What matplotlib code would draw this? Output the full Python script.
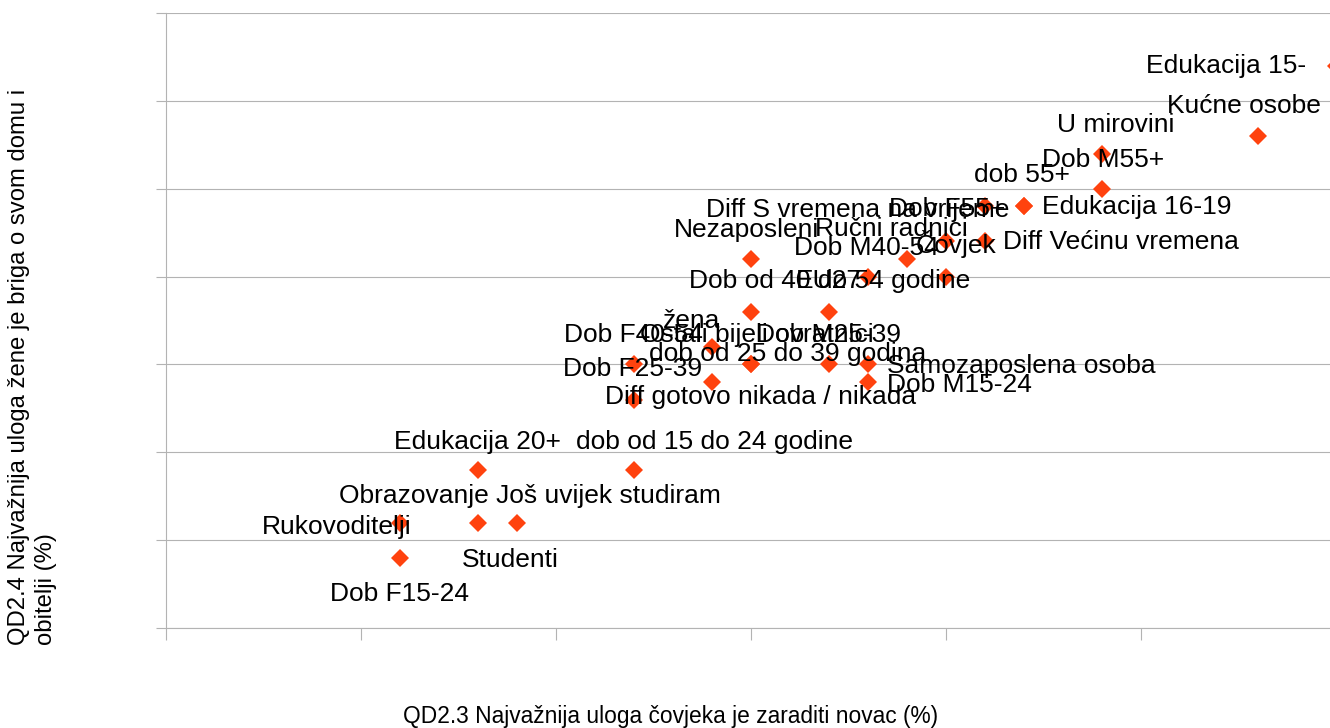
import matplotlib
matplotlib.use('Agg')
import matplotlib.pyplot as plt

plt.rcParams['font.family'] = ['Liberation Sans', 'DejaVu Sans']

# skupine ispitanika i vrijednosti (%)
groups = ['Edukacija 15-', 'Kućne osobe', 'U mirovini', 'Dob M55+', 'dob 55+',
          'Edukacija 16-19', 'Diff S vremena na vrijeme', 'Diff Većinu vremena',
          'Dob F55+', 'Ručni radnici', 'Nezaposleni', 'Dob M40-54', 'Čovjek',
          'Dob od 40 do 54 godine', 'EU27', 'žena', 'Dob F40-54',
          'Ostali bijeli ovratnici', 'Dob M25-39', 'Samozaposlena osoba',
          'dob od 25 do 39 godina', 'Dob M15-24', 'Dob F25-39',
          'Diff gotovo nikada / nikada', 'Edukacija 20+', 'dob od 15 do 24 godine',
          'Rukovoditelji', 'Obrazovanje Još uvijek studiram', 'Studenti', 'Dob F15-24']
x_vals = [60, 56, 48, 48, 44, 44, 42, 42, 40, 38, 30, 36, 40, 30, 34, 28, 24,
          30, 34, 36, 28, 36, 24, 30, 16, 24, 12, 16, 18, 12]
y_vals = [64, 56, 54, 50, 48, 48, 48, 44, 44, 42, 42, 40, 40, 36, 36, 32, 30,
          30, 30, 30, 28, 28, 26, 30, 18, 18, 12, 12, 12, 8]

# pomak natpisa od tocke (pikseli, y prema dolje) i poravnanje
label_pos = [(-30, 7, 'right'), (-14, -23, 'center'), (14, -22, 'center'),
             (1, -22, 'center'), (-2, -24, 'center'), (18, 8, 'left'),
             (-127, 11, 'center'), (18, 8, 'left'), (1, -25, 'center'),
             (-16, -23, 'center'), (-4, -22, 'center'), (-2, -22, 'center'),
             (10, -24, 'center'), (79, -24, 'center'), (0, -24, 'center'),
             (-20, -19, 'center'), (-1, -22, 'center'), (6, -22, 'center'),
             (-1, -22, 'center'), (19, 9, 'left'), (76, -21, 'center'),
             (19, 10, 'left'), (-1, -24, 'center'), (10, 40, 'center'),
             (-1, -21, 'center'), (80, -21, 'center'), (11, 11, 'right'),
             (52, -20, 'center'), (-7, 44, 'center'), (-1, 43, 'center')]

grid_col = '#b3b3b3'

fig = plt.figure(figsize=(13.3, 7.28), dpi=100)
ax = fig.add_axes([166 / 1330, 100 / 728, 1170 / 1330, 615 / 728])

ax.plot(x_vals, y_vals, linestyle='none', marker='D', markersize=9.6,
        color='#ff420e', markeredgewidth=0, clip_on=False, zorder=3)

for name, x, y, (dx, dy, ha) in zip(groups, x_vals, y_vals, label_pos):
    ax.annotate(name, (x, y), xytext=(dx, -dy), textcoords='offset pixels',
                ha=ha, va='baseline', fontsize=19, color='black',
                annotation_clip=False, zorder=4)

ax.set_xlim(0, 60)
ax.set_ylim(0, 70)
ax.set_xticks(range(0, 61, 10))
ax.set_yticks(range(0, 71, 10))
ax.set_xticklabels([])
ax.set_yticklabels([])
ax.tick_params(axis='x', length=8.5, width=0.8, color=grid_col)
ax.tick_params(axis='y', length=7.5, width=0.8, color=grid_col)
ax.grid(axis='y', color=grid_col, linewidth=0.8)
ax.set_axisbelow(True)
for side in ['top', 'right']:
    ax.spines[side].set_visible(False)
for side in ['left', 'bottom']:
    ax.spines[side].set_color(grid_col)
    ax.spines[side].set_linewidth(0.8)

fig.text(671 / 1330, 11 / 728, 'QD2.3 Najvažnija uloga čovjeka je zaraditi novac (%)',
         ha='center', va='center', fontsize=16.4)
fig.text(8 / 1330, 83 / 728,
         'QD2.4 Najvažnija uloga žene je briga o svom domu i\nobitelji (%)',
         rotation=90, ha='left', va='bottom', multialignment='left', fontsize=17.2,
         linespacing=1.3)

fig.savefig('out.png', dpi=100)
